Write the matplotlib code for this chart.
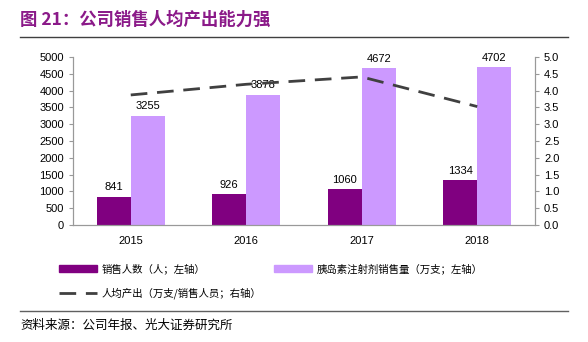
import matplotlib.pyplot as plt
import numpy as np
from matplotlib.lines import Line2D
from matplotlib.patches import Patch

plt.rcParams['font.family'] = ['Liberation Sans', 'Noto Sans CJK SC']

years = ['2015', '2016', '2017', '2018']
sales_staff = [841, 926, 1060, 1334]
insulin_sales = [3255, 3878, 4672, 4702]
per_capita = [s / n for s, n in zip(insulin_sales, sales_staff)]

dark = '#800080'
light = '#CC99FF'
cjk = ['Noto Sans CJK SC', 'Liberation Sans']

fig = plt.figure(figsize=(5.88, 3.42), dpi=100)
ax = fig.add_axes([73 / 588, 1 - 225 / 342, 462 / 588, 168 / 342])
ax2 = ax.twinx()

x = np.arange(len(years))
w = 0.295
ax.bar(x - w / 2, sales_staff, w, color=dark)
ax.bar(x + w / 2, insulin_sales, w, color=light)
for xi, v in zip(x, sales_staff):
    ax.text(xi - w / 2, v + 130, str(v), ha='center', va='bottom', fontsize=8)
for xi, v in zip(x, insulin_sales):
    ax.text(xi + w / 2, v + 130, str(v), ha='center', va='bottom', fontsize=8)

ax2.plot(x, per_capita, color='#404040', lw=2, dashes=(6, 3.5))

ax.set_xlim(-0.5, 3.5)
ax.set_ylim(0, 5000)
ax.set_yticks(np.arange(0, 5001, 500))
ax2.set_ylim(0, 5)
ax2.set_yticks(np.arange(0, 5.01, 0.5))
ax2.set_yticklabels([f'{v:.1f}' for v in np.arange(0, 5.01, 0.5)])
ax.set_xticks(x)
ax.set_xticklabels(years)

for a in (ax, ax2):
    for s in a.spines.values():
        s.set_color('#999999')
        s.set_linewidth(0.8)
    a.spines['top'].set_visible(False)
    a.tick_params(labelsize=8, length=3, color='#999999', width=0.8)
ax.tick_params(axis='x', length=0, pad=8)

# column-wise fill: dark, line in col 1; light in col 2
handles = [Patch(color=dark), Line2D([0], [0], color='#404040', lw=2, dashes=(6, 3.5)),
           Patch(color=light)]
labels = ['销售人数（人；左轴）', '人均产出（万支/销售人员；右轴）', '胰岛素注射剂销售量（万支；左轴）']
fig.legend(handles, labels, ncol=2, loc='upper left', bbox_to_anchor=(55 / 588, 1 - 259 / 342),
           frameon=False, prop={'family': cjk, 'size': 7.5}, handlelength=3.6, handleheight=0.6,
           handletextpad=0.5, columnspacing=1.2, labelspacing=1.3, borderaxespad=0)

fig.text(20 / 588, 1 - 20 / 342, '图 21：公司销售人均产出能力强', family=cjk, fontsize=12.5,
         fontweight='bold', color='#8B1A89', va='center')
fig.add_artist(Line2D([20 / 588, 568 / 588], [1 - 37 / 342] * 2, color='#404040', lw=1))
fig.add_artist(Line2D([20 / 588, 568 / 588], [1 - 311 / 342] * 2, color='#606060', lw=1))
fig.text(20 / 588, 1 - 325 / 342, '资料来源：公司年报、光大证券研究所', family=cjk, fontsize=9, va='center')

fig.savefig('out.png', dpi=100)
